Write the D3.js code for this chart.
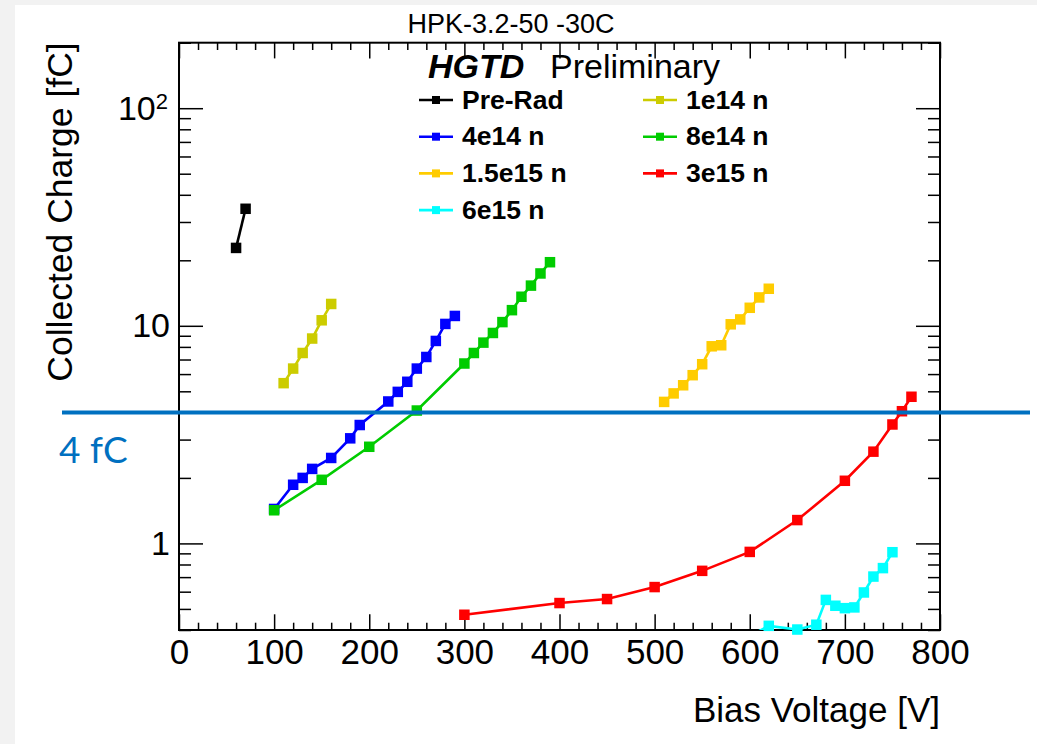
<!DOCTYPE html>
<html>
<head>
<meta charset="utf-8">
<script src="https://cdn.jsdelivr.net/npm/d3@7"></script>
<style>
  body { margin: 0; background: #f2f2f2; }
  svg { display: block; }
</style>
</head>
<body>
<script>
// data (bias voltage [V], collected charge [fC])
const voltPreRad = [60, 70];
const chargePreRad = [22.8, 34.5];

const volt1e14 = [110, 120, 130, 140, 150, 160];
const charge1e14 = [5.45, 6.36, 7.5, 8.74, 10.6, 12.6];

const volt4e14 = [100, 120, 130, 140, 160, 180, 190, 220, 230, 240, 250, 260, 270, 280, 290];
const charge4e14 = [1.44, 1.86, 2.0, 2.2, 2.47, 3.04, 3.5, 4.49, 4.97, 5.53, 6.36, 7.19, 8.52, 10.2, 11.1];

const volt8e14 = [100, 150, 200, 250, 300, 310, 320, 330, 340, 350, 360, 370, 380, 390];
const charge8e14 = [1.42, 1.96, 2.78, 4.08, 6.71, 7.5, 8.37, 9.27, 10.4, 11.8, 13.6, 15.3, 17.4, 19.6];

const volt15e15 = [510, 520, 530, 540, 550, 560, 570, 580, 590, 600, 610, 620];
const charge15e15 = [4.47, 4.89, 5.33, 5.93, 6.66, 8.05, 8.14, 10.16, 10.7, 12.1, 13.5, 14.8];

const volt3e15 = [300, 400, 450, 500, 550, 600, 650, 700, 730, 750, 760, 770];
const charge3e15 = [0.47, 0.532, 0.555, 0.63, 0.748, 0.914, 1.28, 1.94, 2.64, 3.52, 4.05, 4.72];

const volt6e15 = [600, 620, 650, 670, 680, 690, 700, 710, 720, 730, 740, 750];
const charge6e15 = [0.375, 0.418, 0.402, 0.423, 0.55, 0.517, 0.504, 0.508, 0.595, 0.704, 0.77, 0.911];

const seriesNames = ["Pre-Rad", "1e14 n", "4e14 n", "8e14 n", "1.5e15 n", "3e15 n", "6e15 n"];
const seriesColors = ["#000000", "#cccc00", "#0000ff", "#00cc00", "#ffcc00", "#ff0000", "#00ffff"];

const xTicks = [0, 100, 200, 300, 400, 500, 600, 700, 800];
const yTicks = [1, 10, 100];
const thresholdCharge = 4;

const series = [
  [voltPreRad, chargePreRad], [volt1e14, charge1e14], [volt4e14, charge4e14],
  [volt8e14, charge8e14], [volt15e15, charge15e15], [volt3e15, charge3e15],
  [volt6e15, charge6e15]
].map(function(p, i) {
  return {
    name: seriesNames[i],
    color: seriesColors[i],
    values: p[0].map(function(v, j) { return {v: v, q: p[1][j]}; })
  };
});

const W = 1037, H = 744;
const margin = {top: 42.7, right: 97, bottom: 114, left: 179};
const font = "'Liberation Sans', Arial, Helvetica, sans-serif";

const svg = d3.select("body").append("svg")
  .attr("width", W)
  .attr("height", H);

// white slide panel
svg.append("rect")
  .attr("x", 15).attr("y", 5)
  .attr("width", W - 15).attr("height", H - 5)
  .attr("fill", "#ffffff");

const x = d3.scaleLinear()
  .domain([0, 800])
  .range([margin.left, W - margin.right]);

const y = d3.scaleLog()
  .domain([0.4, 200])
  .range([H - margin.bottom, margin.top]);

const x0 = x.range()[0], x1 = x.range()[1];
const y0 = y.range()[0], y1 = y.range()[1];

svg.append("clipPath").attr("id", "plotclip")
  .append("rect")
  .attr("x", x0).attr("y", y1)
  .attr("width", x1 - x0).attr("height", y0 - y1);

// minor ticks
const xMinor = d3.range(0, 801, 20).filter(function(d) { return d % 100 !== 0; });
const yMinor = [];
[0.1, 1, 10, 100].forEach(function(dec) {
  for (let k = 2; k <= 9; k++) {
    const v = dec * k;
    if (v >= 0.4 && v <= 200) yMinor.push(v);
  }
});

function styleAxis(g) {
  g.select(".domain").remove();
  g.selectAll(".tick line").attr("stroke", "#000").attr("stroke-width", 1.5);
}

// bottom axis with labels
svg.append("g")
  .attr("transform", "translate(0," + y0 + ")")
  .call(d3.axisBottom(x).tickValues(xTicks).tickSize(-15.7).tickPadding(9)
    .tickFormat(d3.format("d")))
  .call(styleAxis)
  .call(function(g) {
    g.selectAll("text").attr("font-family", font).attr("font-size", 35).attr("fill", "#000");
  });
svg.append("g")
  .attr("transform", "translate(0," + y0 + ")")
  .call(d3.axisBottom(x).tickValues(xMinor).tickSize(-7.3).tickFormat(""))
  .call(styleAxis);

// top axis ticks
svg.append("g")
  .attr("transform", "translate(0," + y1 + ")")
  .call(d3.axisTop(x).tickValues(xTicks).tickSize(-15.7).tickFormat(""))
  .call(styleAxis);
svg.append("g")
  .attr("transform", "translate(0," + y1 + ")")
  .call(d3.axisTop(x).tickValues(xMinor).tickSize(-7.3).tickFormat(""))
  .call(styleAxis);

// left axis with labels
const leftAxis = svg.append("g")
  .attr("transform", "translate(" + x0 + ",0)")
  .call(d3.axisLeft(y).tickValues(yTicks).tickSize(-24).tickPadding(9)
    .tickFormat(function(d) { return d === 100 ? "" : String(d); }))
  .call(styleAxis);
leftAxis.selectAll("text")
  .attr("font-family", font).attr("font-size", 34).attr("fill", "#000");
leftAxis.selectAll(".tick").filter(function(d) { return d === 100; })
  .select("text")
  .attr("x", -11)
  .call(function(t) {
    t.append("tspan").text("10");
    t.append("tspan").attr("dy", "-0.5em").attr("font-size", 22).text("2");
  });
svg.append("g")
  .attr("transform", "translate(" + x0 + ",0)")
  .call(d3.axisLeft(y).tickValues(yMinor).tickSize(-12).tickFormat(""))
  .call(styleAxis);

// right axis ticks
svg.append("g")
  .attr("transform", "translate(" + x1 + ",0)")
  .call(d3.axisRight(y).tickValues(yTicks).tickSize(-24).tickFormat(""))
  .call(styleAxis);
svg.append("g")
  .attr("transform", "translate(" + x1 + ",0)")
  .call(d3.axisRight(y).tickValues(yMinor).tickSize(-12).tickFormat(""))
  .call(styleAxis);

// frame
svg.append("rect")
  .attr("x", x0).attr("y", y1)
  .attr("width", x1 - x0).attr("height", y0 - y1)
  .attr("fill", "none")
  .attr("stroke", "#000")
  .attr("stroke-width", 2);

// series lines
const line = d3.line()
  .x(function(d) { return x(d.v); })
  .y(function(d) { return y(d.q); });

const plot = svg.append("g");
plot.selectAll("path.series")
  .data(series)
  .enter().append("path")
  .attr("class", "series")
  .attr("clip-path", "url(#plotclip)")
  .attr("d", function(d) { return line(d.values); })
  .attr("fill", "none")
  .attr("stroke", function(d) { return d.color; })
  .attr("stroke-width", 2.6);

// square markers (only inside the frame)
const msize = 10.5;
series.forEach(function(s) {
  plot.selectAll(null)
    .data(s.values.filter(function(d) { return d.q >= 0.4 && d.q <= 200; }))
    .enter().append("rect")
    .attr("x", function(d) { return x(d.v) - msize / 2; })
    .attr("y", function(d) { return y(d.q) - msize / 2; })
    .attr("width", msize).attr("height", msize)
    .attr("fill", s.color);
});

// 4 fC threshold line
svg.append("line")
  .attr("x1", 62).attr("x2", 1030)
  .attr("y1", y(thresholdCharge)).attr("y2", y(thresholdCharge))
  .attr("stroke", "#0070c0")
  .attr("stroke-width", 4);
svg.append("text")
  .attr("x", 59).attr("y", 463)
  .attr("font-family", "Lato, 'Open Sans', sans-serif")
  .attr("font-size", 37)
  .attr("fill", "#0070c0")
  .text("4 fC");

// title
svg.append("text")
  .attr("x", 511).attr("y", 33)
  .attr("text-anchor", "middle")
  .attr("font-family", font)
  .attr("font-size", 27)
  .text("HPK-3.2-50 -30C");

// HGTD Preliminary
svg.append("text")
  .attr("x", 428).attr("y", 78.3)
  .attr("font-family", font)
  .attr("font-size", 34)
  .attr("font-weight", "bold")
  .attr("font-style", "italic")
  .text("HGTD");
svg.append("text")
  .attr("x", 550).attr("y", 78.3)
  .attr("font-family", font)
  .attr("font-size", 34)
  .text("Preliminary");

// axis titles
svg.append("text")
  .attr("x", 940).attr("y", 722)
  .attr("text-anchor", "end")
  .attr("font-family", font)
  .attr("font-size", 35)
  .text("Bias Voltage [V]");
svg.append("text")
  .attr("transform", "translate(72,212) rotate(-90)")
  .attr("text-anchor", "middle")
  .attr("font-family", font)
  .attr("font-size", 35.5)
  .text("Collected Charge [fC]");

// legend, two columns
const legendOrder = ["Pre-Rad", "1e14 n", "4e14 n", "8e14 n", "1.5e15 n", "3e15 n", "6e15 n"];
const legend = svg.append("g");
legendOrder.forEach(function(name, i) {
  const s = series.find(function(d) { return d.name === name; });
  const col = i % 2, row = Math.floor(i / 2);
  const lx = col === 0 ? 436 : 660;
  const ly = 100 + row * 36.7;
  const g = legend.append("g").attr("transform", "translate(" + lx + "," + ly + ")");
  g.append("line")
    .attr("x1", -17).attr("x2", 17)
    .attr("stroke", s.color).attr("stroke-width", 2.6);
  g.append("rect")
    .attr("x", -4).attr("y", -4).attr("width", 8).attr("height", 8)
    .attr("fill", s.color);
  g.append("text")
    .attr("x", 26).attr("y", 8.5)
    .attr("font-family", font)
    .attr("font-size", 26.5)
    .attr("font-weight", "bold")
    .text(name);
});
</script>
</body>
</html>
